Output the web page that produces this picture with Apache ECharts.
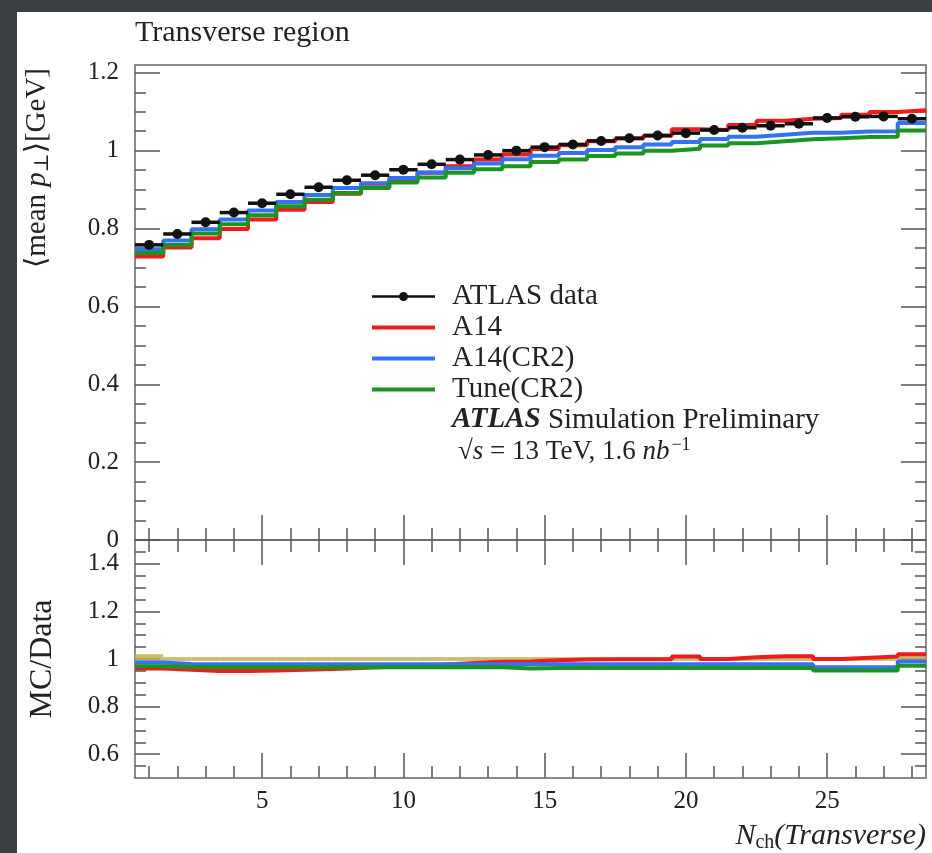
<!DOCTYPE html>
<html>
<head>
<meta charset="utf-8">
<script src="https://cdn.jsdelivr.net/npm/echarts@6/dist/echarts.min.js"></script>
<style>
  html, body { margin: 0; padding: 0; background: #3b3f42; }
  #paper { position: absolute; left: 17px; top: 12px; width: 915px; height: 841px; background: #fff; }
  #chart { position: absolute; left: 0; top: 0; width: 932px; height: 853px; }
</style>
</head>
<body>
<div id="paper"></div>
<div id="chart"></div>
<script>
  // bins of N_ch (bin centres, width 1)
  const BINS = [1, 2, 3, 4, 5, 6, 7, 8, 9, 10, 11, 12, 13, 14, 15, 16, 17, 18, 19, 20, 21, 22, 23, 24, 25, 26, 27, 28]

  // upper panel: <mean pT> [GeV]
  const DATA = [0.758, 0.786, 0.816, 0.841, 0.865, 0.888, 0.906, 0.924, 0.937, 0.951, 0.965, 0.977, 0.989, 1.000,
    1.009, 1.016, 1.025, 1.032, 1.039, 1.045, 1.053, 1.059, 1.064, 1.069, 1.084, 1.087, 1.088, 1.082]
  const A14 = [0.728, 0.751, 0.775, 0.799, 0.823, 0.848, 0.868, 0.889, 0.906, 0.924, 0.943, 0.960, 0.977, 0.990,
    1.004, 1.014, 1.024, 1.031, 1.038, 1.055, 1.053, 1.066, 1.077, 1.082, 1.084, 1.092, 1.099, 1.104]
  const A14_CR2 = [0.747, 0.769, 0.798, 0.823, 0.846, 0.868, 0.886, 0.904, 0.916, 0.930, 0.944, 0.955, 0.967, 0.978,
    0.987, 0.994, 1.002, 1.009, 1.016, 1.022, 1.030, 1.036, 1.041, 1.046, 1.046, 1.049, 1.050, 1.071]
  const TUNE_CR2 = [0.737, 0.758, 0.787, 0.811, 0.834, 0.857, 0.874, 0.891, 0.904, 0.918, 0.931, 0.943, 0.952, 0.960,
    0.971, 0.977, 0.986, 0.993, 1.000, 1.005, 1.013, 1.019, 1.024, 1.029, 1.032, 1.035, 1.036, 1.052]

  // lower panel: MC/Data
  const R_A14 = [0.960, 0.955, 0.950, 0.950, 0.952, 0.955, 0.958, 0.962, 0.967, 0.972, 0.977, 0.983, 0.988, 0.990,
    0.995, 0.998, 0.999, 0.999, 0.999, 1.010, 1.000, 1.007, 1.012, 1.012, 1.000, 1.005, 1.010, 1.020]
  const R_A14_CR2 = [0.985, 0.979, 0.978, 0.978, 0.978, 0.978, 0.978, 0.978, 0.978, 0.978, 0.978, 0.978, 0.978, 0.978,
    0.978, 0.978, 0.978, 0.978, 0.978, 0.978, 0.978, 0.978, 0.978, 0.978, 0.965, 0.965, 0.965, 0.990]
  const R_TUNE_CR2 = [0.970, 0.966, 0.965, 0.965, 0.965, 0.965, 0.965, 0.965, 0.965, 0.965, 0.965, 0.965, 0.965, 0.960,
    0.962, 0.962, 0.962, 0.962, 0.962, 0.962, 0.962, 0.962, 0.962, 0.962, 0.952, 0.952, 0.952, 0.972]
  // data uncertainty band in the ratio
  const R_BAND = [0.02, 0.008, 0.008, 0.008, 0.008, 0.008, 0.008, 0.008, 0.008, 0.008, 0.008, 0.008, 0.008, 0.008,
    0.008, 0.008, 0.008, 0.008, 0.008, 0.008, 0.008, 0.008, 0.008, 0.008, 0.008, 0.008, 0.008, 0.015]

  // ticks
  const X_MAJOR = [5, 10, 15, 20, 25]
  const Y_MAJOR = [0, 0.2, 0.4, 0.6, 0.8, 1, 1.2]
  const Y_MINOR = Array.from({ length: 24 }, (_, i) => +(0.05 * (i + 1)).toFixed(2))
  const R_MAJOR = [0.6, 0.8, 1, 1.2, 1.4]
  const R_MINOR = Array.from({ length: 19 }, (_, i) => +(0.55 + 0.05 * i).toFixed(2))

  const FONT = "'Liberation Serif', 'DejaVu Serif', serif"
  const INK = '#222'
  const TICK = { color: '#555', width: 1.5 }
  const RED = '#ee1c1c'
  const BLUE = '#3372f5'
  const GREEN = '#1b951f'
  const LINE_ICON = 'path://M0,0H63V4H0Z'

  function xAx (grid, pos, ticks, len, labels) {
    return {
      type: 'value', gridIndex: grid, position: pos, min: 0.5, max: 28.5,
      axisLine: { show: false },
      splitLine: { show: false },
      axisTick: { show: true, inside: true, length: len, customValues: ticks, lineStyle: TICK },
      axisLabel: labels
        ? { show: true, customValues: ticks, margin: 11, fontFamily: FONT, fontSize: 25, color: INK }
        : { show: false }
    }
  }

  function yAx (grid, pos, min, max, ticks, len, labels, extra) {
    return Object.assign({
      type: 'value', gridIndex: grid, position: pos, min: min, max: max,
      axisLine: { show: false },
      splitLine: { show: false },
      axisTick: { show: true, inside: true, length: len, customValues: ticks, lineStyle: TICK },
      axisLabel: labels
        ? { show: true, customValues: ticks, margin: 16, fontFamily: FONT, fontSize: 25, color: INK }
        : { show: false }
    }, extra || {})
  }

  // histogram outline from bin values
  function steps (vals) {
    const pts = vals.map((v, i) => [BINS[i] - 0.5, v])
    pts.push([BINS[BINS.length - 1] + 0.5, vals[vals.length - 1]])
    return pts
  }

  function stepSeries (name, color, vals, xi, yi) {
    return {
      type: 'line', name: name, step: 'end', symbol: 'none', color: color,
      xAxisIndex: xi, yAxisIndex: yi,
      itemStyle: { color: color },
      lineStyle: { color: color, width: 4 },
      data: steps(vals)
    }
  }

  const options = {
    animation: false,
    textStyle: { fontFamily: FONT },
    title: {
      text: 'Transverse region', left: 135, top: 18, padding: 0,
      textStyle: { fontFamily: FONT, fontSize: 30, fontWeight: 'normal', color: INK }
    },
    grid: [
      { left: 135, top: 65, width: 791, height: 475, show: true, borderColor: '#666', borderWidth: 1.5 },
      { left: 135, top: 540, width: 791, height: 238, show: true, borderColor: '#666', borderWidth: 1.5 }
    ],
    xAxis: [
      xAx(0, 'bottom', X_MAJOR, 25, false),
      xAx(0, 'bottom', BINS, 12, false),
      xAx(0, 'top', X_MAJOR, 25, false),
      xAx(0, 'top', BINS, 12, false),
      xAx(1, 'bottom', X_MAJOR, 25, true),
      xAx(1, 'bottom', BINS, 12, false),
      xAx(1, 'top', X_MAJOR, 25, false),
      xAx(1, 'top', BINS, 12, false)
    ],
    yAxis: [
      yAx(0, 'left', 0, 1.22, Y_MAJOR, 25, true),
      yAx(0, 'left', 0, 1.22, Y_MINOR, 11, false),
      yAx(0, 'right', 0, 1.22, Y_MAJOR, 25, false),
      yAx(0, 'right', 0, 1.22, Y_MINOR, 11, false),
      yAx(1, 'left', 0.5, 1.5, R_MAJOR, 25, true, {
        name: 'MC/Data', nameLocation: 'middle', nameGap: 76,
        nameTextStyle: { fontFamily: FONT, fontSize: 32, color: INK }
      }),
      yAx(1, 'left', 0.5, 1.5, R_MINOR, 11, false),
      yAx(1, 'right', 0.5, 1.5, R_MAJOR, 25, false),
      yAx(1, 'right', 0.5, 1.5, R_MINOR, 11, false)
    ],
    legend: {
      orient: 'vertical', left: 372, top: 282, padding: 0,
      itemWidth: 63, itemHeight: 12, itemGap: 2, selectedMode: false,
      textStyle: { fontFamily: FONT, fontSize: 29, color: INK, lineHeight: 26, padding: [0, 0, 0, 12] },
      data: [
        { name: 'ATLAS data', icon: 'path://M0,4H63V6.5H0ZM31.5,0.75A4.5,4.5,0,1,1,31.49,0.75Z' },
        { name: 'A14', icon: LINE_ICON },
        { name: 'A14(CR2)', icon: LINE_ICON },
        { name: 'Tune(CR2)', icon: LINE_ICON }
      ]
    },
    graphic: [
      {
        type: 'text', x: 37, y: 168, rotation: Math.PI / 2,
        style: {
          text: '⟨mean {i|p}{s|⊥}⟩[GeV]', align: 'center', verticalAlign: 'middle',
          font: '29px ' + FONT, fill: INK,
          rich: {
            i: { fontFamily: FONT, fontSize: 29, fontStyle: 'italic', fill: INK },
            s: { fontFamily: FONT, fontSize: 20, fill: INK, padding: [12, 0, 0, 0] }
          }
        }
      },
      {
        type: 'text', x: 926, y: 836,
        style: {
          text: '{i|N}{s|ch}{i|(Transverse)}', align: 'right', verticalAlign: 'middle',
          font: 'italic 30px ' + FONT, fill: INK,
          rich: {
            i: { fontFamily: FONT, fontSize: 30, fontStyle: 'italic', fill: INK },
            s: { fontFamily: FONT, fontSize: 20, fill: INK, padding: [14, 0, 0, 0] }
          }
        }
      },
      {
        type: 'text', x: 452, y: 420,
        style: {
          text: '{b|ATLAS} Simulation Preliminary', verticalAlign: 'middle',
          font: '29px ' + FONT, fill: INK,
          rich: { b: { fontFamily: FONT, fontSize: 29, fontStyle: 'italic', fontWeight: 'bold', fill: INK } }
        }
      },
      {
        type: 'text', x: 458, y: 452,
        style: {
          text: '√{o|s} = 13 TeV, 1.6 {i|nb}{u|−1}', verticalAlign: 'middle',
          font: '27px ' + FONT, fill: INK,
          rich: {
            o: { fontFamily: FONT, fontSize: 27, fontStyle: 'italic', fill: INK },
            i: { fontFamily: FONT, fontSize: 27, fontStyle: 'italic', fill: INK },
            u: { fontFamily: FONT, fontSize: 18, fill: INK, padding: [0, 0, 14, 2] }
          }
        }
      }
    ],
    series: [
      stepSeries('A14', RED, A14, 0, 0),
      stepSeries('A14(CR2)', BLUE, A14_CR2, 0, 0),
      stepSeries('Tune(CR2)', GREEN, TUNE_CR2, 0, 0),
      {
        type: 'custom', name: 'ATLAS data', xAxisIndex: 0, yAxisIndex: 0, z: 10,
        itemStyle: { color: '#111' },
        data: BINS.map((b, i) => [b, DATA[i]]),
        renderItem: function (params, api) {
          const l = api.coord([api.value(0) - 0.5, api.value(1)])
          const r = api.coord([api.value(0) + 0.5, api.value(1)])
          return {
            type: 'group',
            children: [
              { type: 'line', shape: { x1: l[0], y1: l[1], x2: r[0], y2: r[1] }, style: { stroke: '#111', lineWidth: 3.5 } },
              { type: 'circle', shape: { cx: (l[0] + r[0]) / 2, cy: l[1], r: 5 }, style: { fill: '#111' } }
            ]
          }
        }
      },
      // ratio panel
      {
        type: 'custom', name: 'band', xAxisIndex: 4, yAxisIndex: 4,
        data: BINS.map((b, i) => [b, R_BAND[i]]),
        renderItem: function (params, api) {
          const a = api.coord([api.value(0) - 0.5, 1 + api.value(1)])
          const b = api.coord([api.value(0) + 0.5, 1 - api.value(1)])
          return {
            type: 'rect',
            shape: { x: a[0], y: a[1], width: b[0] - a[0], height: b[1] - a[1] },
            style: { fill: 'rgba(190,178,80,0.85)' }
          }
        }
      },
      stepSeries('A14', RED, R_A14, 4, 4),
      stepSeries('A14(CR2)', BLUE, R_A14_CR2, 4, 4),
      stepSeries('Tune(CR2)', GREEN, R_TUNE_CR2, 4, 4)
    ]
  }

  const chart = echarts.init(document.getElementById('chart'), null, { renderer: 'canvas' })
  chart.setOption(options)
</script>
</body>
</html>
